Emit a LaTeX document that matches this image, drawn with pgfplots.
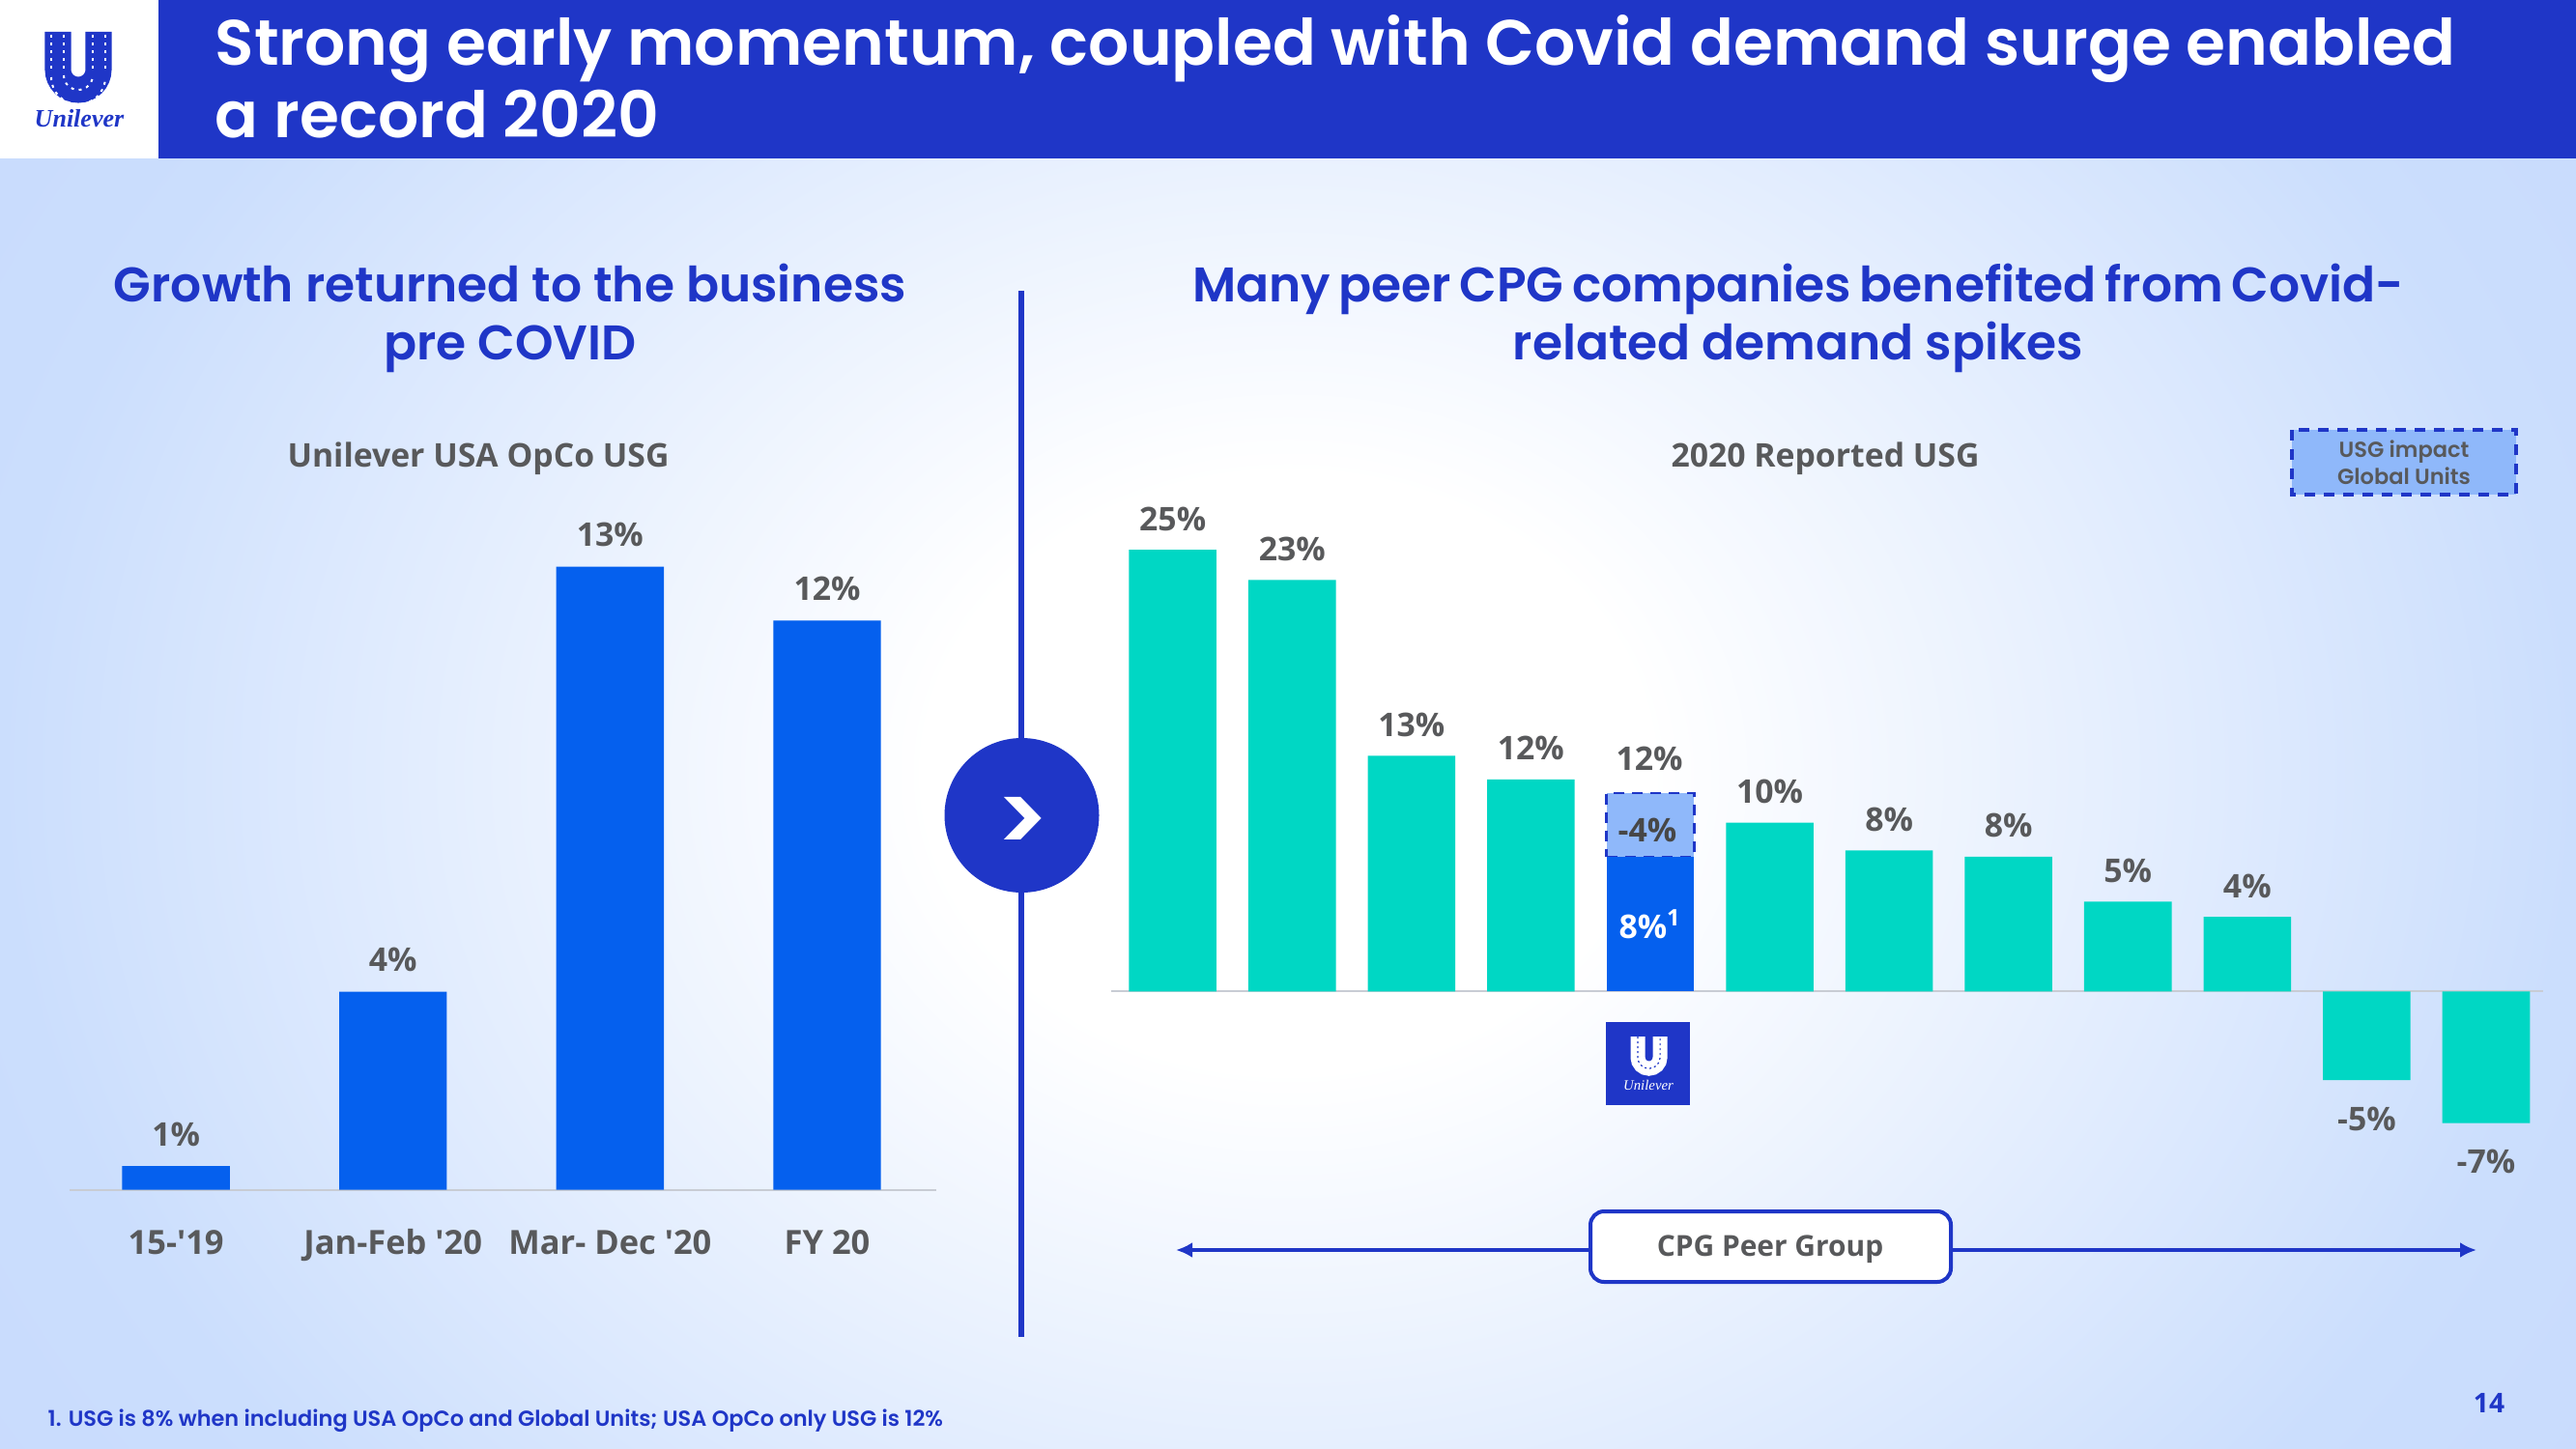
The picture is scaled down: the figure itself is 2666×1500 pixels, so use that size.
\documentclass[border=0pt]{standalone}
\usepackage{fontspec}
\usepackage{pgfplots}
\usepackage{pgfplotstable}
\pgfplotsset{compat=1.18}
\usetikzlibrary{arrows.meta}
\setmainfont{Open Sans}
\newfontfamily\head{Poppins}[UprightFont=*-SemiBold,BoldFont=*-SemiBold]
\newfontfamily\logofont{Liberation Serif}

\definecolor{navy}{RGB}{31,54,199}
\definecolor{barblue}{RGB}{5,96,238}
\definecolor{teal}{RGB}{0,215,196}
\definecolor{impact}{RGB}{143,184,250}
\definecolor{txt}{RGB}{88,89,91}
\definecolor{base}{RGB}{200,204,212}
\definecolor{edge}{RGB}{203,222,253}

\pgfdeclareradialshading{bg}{\pgfpoint{0bp}{0bp}}{color(0bp)=(white); color(7bp)=(white); color(25bp)=(edge); color(40bp)=(edge!96!blue); color(50bp)=(edge!96!blue)}

% left chart
\pgfplotstableread{
x y lab
0 0.49 1
1 4.13 4
2 13.0 13
3 11.88 12
}\opco
% right chart, peers above and below the line
\pgfplotstableread{
x y lab
0 25.0 25
1 23.28 23
2 13.33 13
3 12.0 12
5 9.55 10
6 7.97 8
7 7.62 8
8 5.08 5
9 4.22 4
}\peersup
\pgfplotstableread{
x y lab
10 -5.02 -5
11 -7.46 -7
}\peersdown
\pgfplotstableread{
x y
4 7.62
}\ulbase
\pgfplotstableread{
x y
4 3.59
}\ulimpact

\newcommand{\lab}{\fontsize{9.6}{11}\selectfont\bfseries}
\newcommand{\headsize}{\head\fontsize{14.3}{17}\selectfont}
\newcommand{\titlesize}{\head\fontsize{18.85}{22}\selectfont}

\pgfplotsset{
  rightgeo/.style={
    scale only axis, width=14.81cm, height=6.215cm,
    at={(11.495cm,-11.719cm)}, anchor=south west,
    xmin=-0.514, xmax=11.478, ymin=-8, ymax=26, clip=false,
  },
}

\begin{document}
\begin{tikzpicture}[x=0.01cm,y=-0.01cm]
\useasboundingbox (0,0) rectangle (2666,1500);
\begin{scope}
  \clip (0,0) rectangle (2666,1500);
  \shade[shading=bg] (0,-300) rectangle (2666,1900);
\end{scope}

% header
\fill[navy] (164,0) rectangle (2666,164);
\fill[white] (0,0) rectangle (164,164);
\draw[navy,line width=0.27cm] (60,33) -- (60,72) arc[start angle=180,end angle=0,radius=21] -- (102,33);
\foreach \xx in {53,66,96,109}
  \draw[white,line width=0.02cm,dash pattern=on 0.03cm off 0.05cm] (\xx,36) -- (\xx,72);
\draw[white,line width=0.02cm,dash pattern=on 0.03cm off 0.05cm] (53,80) arc[start angle=180,end angle=0,radius=28];
\draw[white,line width=0.02cm,dash pattern=on 0.03cm off 0.05cm] (66,78) arc[start angle=180,end angle=0,radius=15];
\node[navy,font=\logofont\itshape\bfseries\fontsize{7.4}{9}\selectfont] at (82,123) {Unilever};
\node[white,anchor=base west,inner sep=0,font=\titlesize] at (222,68) {Strong early momentum, coupled with Covid demand surge enabled};
\node[white,anchor=base west,inner sep=0,font=\titlesize] at (222,143) {a record 2020};

% section headings
\node[navy,anchor=base,font=\headsize] at (528,313) {Growth returned to the business};
\node[navy,anchor=base,font=\headsize] at (528,373) {pre COVID};
\node[navy,anchor=base,font=\headsize] at (1861,313) {\spaceskip=2.45pt Many peer CPG companies benefited from Covid-};
\node[navy,anchor=base,font=\headsize] at (1861,373) {related demand spikes};
\node[txt,anchor=base,font=\lab] at (495,483) {Unilever USA OpCo USG};
\node[txt,anchor=base,font=\lab] at (1889,483) {2020 Reported USG};

% divider
\draw[navy,line width=0.06cm] (1056.5,301) -- (1056.5,1384);
\fill[navy] (1057.5,844) circle[radius=80];
\node[white,font=\head\fontsize{28}{30}\selectfont] at (1058,854) {>};

% left chart
\begin{axis}[
  scale only axis, width=8.96cm, height=6.94cm,
  at={(0.72cm,-12.308cm)}, anchor=south west,
  xmin=-0.49, xmax=3.501, ymin=0, ymax=14, clip=false,
  axis x line*=bottom, axis y line=none,
  axis line style={base,-,line width=0.02cm},
  xtick={0,1,2,3},
  xticklabels={15-\textquotesingle 19,Jan-Feb \textquotesingle 20,Mar- Dec \textquotesingle 20,FY 20},
  major tick length=0pt,
  xticklabel style={txt,font=\fontsize{9.8}{11}\selectfont\bfseries,anchor=base,yshift=-0.67cm},
  ybar, bar width=1.113cm,
]
\addplot[fill=barblue,draw=none,point meta=explicit symbolic,
  nodes near coords={\pgfplotspointmeta\%},
  every node near coord/.append style={txt,font=\lab,anchor=center,yshift=0.33cm}]
  table[x=x,y=y,meta=lab] {\opco};
\end{axis}

% right chart
\begin{axis}[
  rightgeo,
  axis x line=middle, axis y line=none,
  axis line style={base,-,line width=0.02cm},
  xtick=\empty,
  ybar, bar width=0.905cm,
]
\addplot[fill=teal,draw=none,bar shift=0pt,point meta=explicit symbolic,
  nodes near coords={\pgfplotspointmeta\%},
  every node near coord/.append style={txt,font=\lab,anchor=center,yshift=0.32cm}]
  table[x=x,y=y,meta=lab] {\peersup};
\addplot[fill=teal,draw=none,bar shift=0pt,point meta=explicit symbolic,
  nodes near coords={\pgfplotspointmeta\%},
  every node near coord/.append style={txt,font=\lab,anchor=center,yshift=-0.40cm}]
  table[x=x,y=y,meta=lab] {\peersdown};
\end{axis}
\begin{axis}[
  rightgeo, hide axis,
  ybar stacked, bar width=0.905cm,
]
\addplot[fill=barblue,draw=none] table[x=x,y=y] {\ulbase};
\addplot[fill=impact,draw=navy,line width=0.025cm,dash pattern=on 0.11cm off 0.08cm] table[x=x,y=y] {\ulimpact};
\end{axis}
\node[txt,font=\lab] at (1707,785) {12\%};
\node[font=\lab,text=black!72] at (1705,859) {-4\%};
\node[font=\lab,text=white] at (1708,957) {8\%\textsuperscript{1}};

% small logo under the Unilever bar
\fill[navy] (1662,1058) rectangle (1749,1144);
\begin{scope}[shift={(1662,1055)},scale=0.55]
  \draw[white,line width=0.15cm] (60,33) -- (60,72) arc[start angle=180,end angle=0,radius=21] -- (102,33);
  \draw[navy,line width=0.012cm,dash pattern=on 0.02cm off 0.03cm] (60,33) -- (60,72) arc[start angle=180,end angle=0,radius=21] -- (102,33);
\end{scope}
\node[white,font=\logofont\itshape\fontsize{4.2}{5}\selectfont] at (1706,1123) {Unilever};

% legend box
\draw[navy,fill=impact,line width=0.035cm,dash pattern=on 0.11cm off 0.09cm] (2372,445) rectangle (2604,512);
\node[txt,anchor=base,font=\head\fontsize{6.4}{7}\selectfont] at (2488,473) {USG impact};
\node[txt,anchor=base,font=\head\fontsize{6.4}{7}\selectfont] at (2488,501) {Global Units};

% peer group bracket
\draw[navy,line width=0.04cm,{Latex[length=0.17cm,width=0.16cm]}-{Latex[length=0.17cm,width=0.16cm]}] (1217,1294) -- (2563,1294);
\draw[navy,fill=white,line width=0.04cm,rounded corners=0.14cm] (1646,1254) rectangle (2019,1327);
\node[txt,font=\bfseries\fontsize{8.5}{10}\selectfont] at (1832,1293) {CPG Peer Group};

% footer
\node[navy,anchor=base west,inner sep=0,font=\head\fontsize{6.38}{8}\selectfont] at (49,1476) {1. USG is 8\% when including USA OpCo and Global Units; USA OpCo only USG is 12\%};
\node[navy,font=\bfseries\fontsize{8}{10}\selectfont] at (2576,1452) {14};
\end{tikzpicture}
\end{document}
